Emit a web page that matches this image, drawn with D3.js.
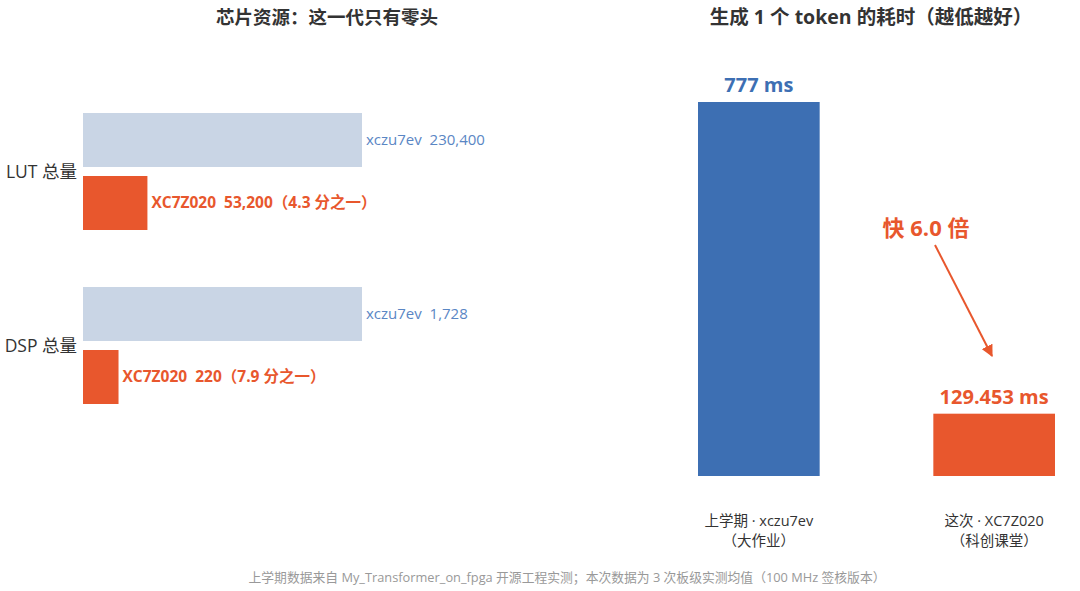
<!DOCTYPE html>
<html>
<head>
<meta charset="utf-8">
<script src="https://cdn.jsdelivr.net/npm/d3@7"></script>
<style>
  html, body { margin: 0; padding: 0; background: #fff; }
  svg { display: block; font-family: "Open Sans", "Noto Sans CJK SC", "Noto Sans", sans-serif; }
  text { white-space: pre; }
</style>
</head>
<body>
<svg id="chart" width="1080" height="591"></svg>
<script>
// left panel: chip resources
const resourceGroups = ['LUT 总量', 'DSP 总量'];
const chips = ['xczu7ev', 'XC7Z020'];
const lutCounts = [230400, 53200];
const dspCounts = [1728, 220];

// right panel: latency per token
const runLabels = [['上学期 · xczu7ev', '（大作业）'], ['这次 · XC7Z020', '（科创课堂）']];
const latencyMs = [777, 129.453];
const latencyText = ['777 ms', '129.453 ms'];

const leftTitle = '芯片资源：这一代只有零头';
const rightTitle = '生成 1 个 token 的耗时（越低越好）';
const footnote = '上学期数据来自 My_Transformer_on_fpga 开源工程实测；本次数据为 3 次板级实测均值（100 MHz 签核版本）';

const ORANGE = '#e8572d', BLUE = '#3d6fb3', LIGHT = '#c9d5e5', BLUE_TXT = '#5a86c4';

const svg = d3.select('#chart');
const fmt = d3.format(',');
const fmt1 = d3.format('.1f');

// titles
svg.append('text').attr('x', 327).attr('y', 24).attr('text-anchor', 'middle')
  .attr('font-size', 18.5).attr('font-weight', 'bold').attr('fill', '#333').text(leftTitle);
svg.append('text').attr('x', 871).attr('y', 24).attr('text-anchor', 'middle')
  .attr('font-size', 19.5).attr('font-weight', 'bold').attr('fill', '#333').text(rightTitle);

// ---- left: horizontal bars, each group relative to its largest chip
const rows = resourceGroups.map((g, i) => {
  const vals = i === 0 ? lutCounts : dspCounts;
  const max = d3.max(vals);
  return { group: g, items: chips.map((c, j) => ({ chip: c, value: vals[j], share: vals[j] / max, ratio: max / vals[j] })) };
});

const yGroup = d3.scaleBand().domain(resourceGroups).range([113, 404]).paddingInner(0.3276);
const yChip = d3.scaleBand().domain(chips).range([0, yGroup.bandwidth()]).paddingInner(0.143);
const xShare = d3.scaleLinear().domain([0, 1]).range([83, 362]);

const gRows = svg.append('g').selectAll('g').data(rows).join('g')
  .attr('transform', d => `translate(0,${yGroup(d.group)})`);

gRows.append('text')
  .attr('x', 77).attr('y', yGroup.bandwidth() / 2).attr('dy', '0.35em')
  .attr('text-anchor', 'end').attr('font-size', 17.5).attr('fill', '#333')
  .text(d => d.group);

gRows.selectAll('rect').data(d => d.items).join('rect')
  .attr('x', xShare(0))
  .attr('y', d => yChip(d.chip))
  .attr('width', d => xShare(d.share) - xShare(0))
  .attr('height', yChip.bandwidth())
  .attr('fill', (d, i) => i === 0 ? LIGHT : ORANGE);

gRows.selectAll('text.val').data(d => d.items).join('text')
  .attr('class', 'val')
  .attr('x', d => xShare(d.share) + 4)
  .attr('y', d => yChip(d.chip) + yChip.bandwidth() / 2)
  .attr('dy', '0.35em')
  .attr('font-size', (d, i) => i === 0 ? 15 : 15.5)
  .attr('font-weight', (d, i) => i === 0 ? 'normal' : 'bold')
  .attr('fill', (d, i) => i === 0 ? BLUE_TXT : ORANGE)
  .text((d, i) => i === 0 ? `${d.chip}  ${fmt(d.value)}` : `${d.chip}  ${fmt(d.value)}（${fmt1(d.ratio)} 分之一）`);

// ---- right: vertical bars
const runKeys = runLabels.map(d => d[0]);
const xRun = d3.scaleBand().domain(runKeys).range([698, 1055]).paddingInner(0.483);
const yMs = d3.scaleLinear().domain([0, d3.max(latencyMs)]).range([476, 102]);

const runs = runKeys.map((k, i) => ({ key: k, sub: runLabels[i][1], ms: latencyMs[i], label: latencyText[i] }));
const gRun = svg.append('g');

gRun.selectAll('rect').data(runs).join('rect')
  .attr('x', d => xRun(d.key))
  .attr('y', d => yMs(d.ms))
  .attr('width', xRun.bandwidth())
  .attr('height', d => yMs(0) - yMs(d.ms))
  .attr('fill', (d, i) => i === 0 ? BLUE : ORANGE);

gRun.selectAll('text.ms').data(runs).join('text')
  .attr('class', 'ms')
  .attr('x', d => xRun(d.key) + xRun.bandwidth() / 2)
  .attr('y', d => yMs(d.ms) - 10)
  .attr('text-anchor', 'middle').attr('font-size', 20).attr('font-weight', 'bold')
  .attr('fill', (d, i) => i === 0 ? BLUE : ORANGE)
  .text(d => d.label);

const xl = gRun.selectAll('g.xl').data(runs).join('g').attr('class', 'xl')
  .attr('transform', d => `translate(${xRun(d.key) + xRun.bandwidth() / 2},0)`);
xl.append('text').attr('y', 526).attr('text-anchor', 'middle').attr('font-size', 14.5).attr('fill', '#333').text(d => d.key);
xl.append('text').attr('y', 546).attr('text-anchor', 'middle').attr('font-size', 14.5).attr('fill', '#333').text(d => d.sub);

// speed-up annotation
const speedup = latencyMs[0] / latencyMs[1];
svg.append('defs').append('marker')
  .attr('id', 'arrow').attr('viewBox', '0 0 10 10').attr('refX', 9).attr('refY', 5)
  .attr('markerWidth', 6).attr('markerHeight', 6).attr('orient', 'auto')
  .append('path').attr('d', 'M0,0 L10,5 L0,10 z').attr('fill', ORANGE);

svg.append('text').attr('x', 926).attr('y', 236).attr('text-anchor', 'middle')
  .attr('font-size', 22).attr('font-weight', 'bold').attr('fill', ORANGE)
  .text(`快 ${fmt1(speedup)} 倍`);
svg.append('line')
  .attr('x1', 935).attr('y1', 245).attr('x2', 992).attr('y2', 356)
  .attr('stroke', ORANGE).attr('stroke-width', 2).attr('marker-end', 'url(#arrow)');

// footnote
svg.append('text').attr('x', 567).attr('y', 582).attr('text-anchor', 'middle')
  .attr('font-size', 12.8).attr('fill', '#999').text(footnote);
</script>
</body>
</html>
